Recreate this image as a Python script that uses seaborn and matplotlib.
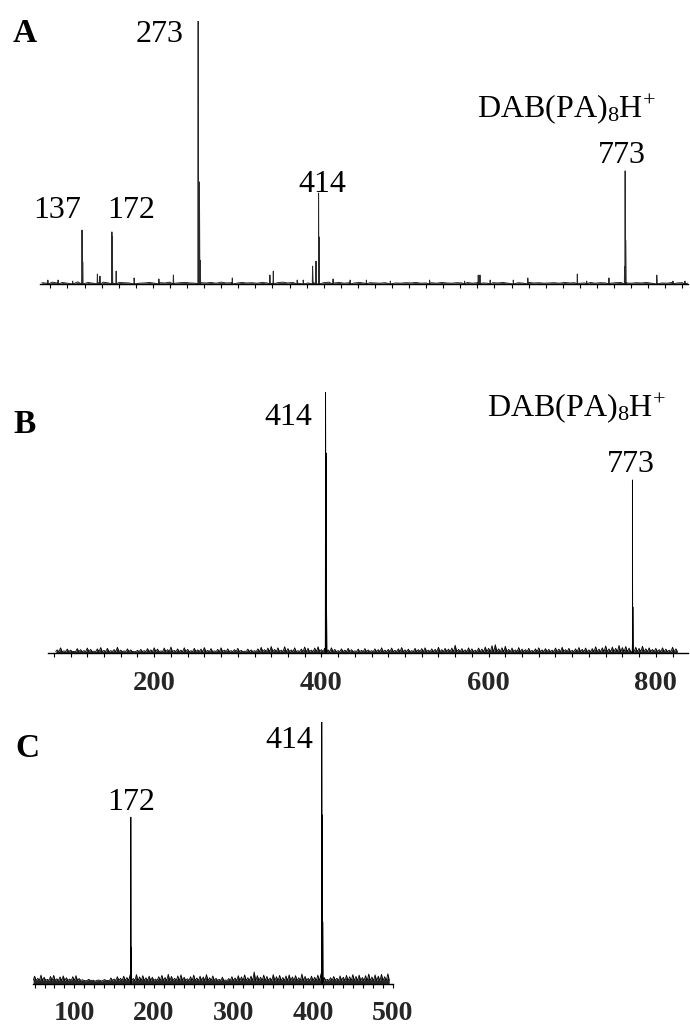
import numpy as np
import pandas as pd
import matplotlib
matplotlib.use("Agg")
import matplotlib.pyplot as plt
import seaborn as sns

# ---------------- data (m/z, relative intensity %) ----------------
# Panel A : stick peaks (main peaks + shoulders + minor peaks)
peaks_A_mz = [137, 137.8, 172, 172.5, 273, 274.5, 275.5, 414, 414.5, 411, 407,
              773, 773.6, 772.4,
              97, 109, 126, 155, 158, 177, 198, 227, 244, 313, 357, 361, 389, 396,
              431, 451, 470, 498, 544, 585, 601, 603, 615, 642, 659, 717, 728,
              754, 810, 829, 843]
peaks_A_int = [20.5, 8.4, 19.8, 17.9, 100, 38.8, 9.0, 34.6, 17.9, 8.7, 6.8,
               43.0, 16.7, 6.5,
               1.5, 1.5, 1.1, 3.8, 3.0, 4.9, 2.3, 1.9, 3.4, 2.3, 3.4, 4.9, 1.5, 1.5,
               1.9, 1.5, 1.5, 1.1, 1.5, 1.1, 3.4, 3.4, 1.5, 1.5, 2.3, 3.8, 1.1,
               2.3, 3.4, 1.1, 1.1]
noise_A_start, noise_A_step = 90, 6
noise_A = [0.5, 0.3, 0.7, 0.4, 0.6, 0.3, 0.5, 0.8, 0.4, 0.6, 0.3, 0.5, 0.7, 0.4, 0.3, 0.6, 0.5, 0.4, 0.7, 0.3,
           0.4, 0.6, 0.3, 0.5, 0.4, 0.7, 0.3, 0.5, 0.6, 0.4, 0.3, 0.5, 0.4, 0.6, 0.3, 0.7, 0.4, 0.5, 0.3, 0.6,
           0.4, 0.5, 0.3, 0.6, 0.4, 0.3, 0.5, 0.7, 0.4, 0.6, 0.3, 0.5, 0.4, 0.6, 0.8, 0.5, 0.7, 0.4, 0.6, 0.3,
           0.5, 0.4, 0.6, 0.3, 0.5, 0.4, 0.3, 0.5, 0.6, 0.4, 0.3, 0.5, 0.4, 0.6, 0.3, 0.4, 0.5, 0.3, 0.6, 0.4,
           0.3, 0.5, 0.4, 0.6, 0.3, 0.5, 0.4, 0.3, 0.5, 0.4, 0.6, 0.3, 0.4, 0.5, 0.3, 0.6, 0.4, 0.5, 0.3, 0.4,
           0.5, 0.3, 0.6, 0.4, 0.5, 0.3, 0.4, 0.6, 0.3, 0.5, 0.4, 0.3, 0.5, 0.6, 0.4, 0.3, 0.5, 0.4, 0.6, 0.3,
           0.5, 0.4, 0.3, 0.6, 0.4, 0.5, 0.3]

# Panel B
peaks_B_mz = [405, 405.6, 406.2, 772, 772.6]
peaks_B_int = [100, 76.6, 16.5, 66.3, 17.6]
noise_B_start, noise_B_step = 84, 4
noise_B = [1.2, 2.0, 0.8, 1.5, 1.1, 0.6, 1.7, 1.3, 0.9, 1.9, 1.4, 0.7, 1.6, 2.1, 1.0, 1.8, 0.9, 1.3, 2.2, 1.1,
           0.8, 1.6, 1.2, 0.5, 1.0, 1.4, 0.9, 1.7, 1.2, 2.0, 1.5, 0.8, 1.9, 1.3, 2.3, 1.0, 1.6, 1.1, 2.0, 1.4,
           0.9, 1.8, 1.2, 1.5, 2.1, 1.0, 1.7, 0.8, 1.4, 2.0, 1.1, 1.6, 0.9, 1.3, 1.8, 1.0, 0.7, 1.5, 1.2, 0.9,
           1.6, 2.2, 1.3, 1.9, 2.5, 1.4, 2.0, 1.1, 2.4, 1.7, 1.2, 2.0, 0.9, 1.5, 2.3, 1.8, 1.1, 1.9, 2.4, 1.3,
           1.8, 1.2, 2.0, 1.4, 0.9, 1.6, 1.1, 1.8, 1.3, 0.8, 1.5, 1.0, 1.7, 1.2, 0.9, 1.6, 1.3, 2.0, 1.1, 1.4,
           1.9, 1.0, 1.6, 2.1, 1.2, 1.5, 0.9, 1.8, 1.3, 1.7, 2.0, 1.1, 1.6, 1.4, 2.2, 1.3, 1.8, 1.5, 1.9, 3.0,
           1.4, 1.7, 1.2, 2.0, 1.6, 1.1, 1.9, 1.5, 2.3, 1.8, 2.8, 3.2, 1.6, 2.0, 2.6, 1.4, 1.9, 1.2, 2.1, 1.5,
           1.3, 1.8, 1.0, 1.6, 2.0, 1.2, 1.7, 1.4, 1.1, 1.9, 1.5, 2.2, 1.3, 1.8, 1.0, 1.6, 2.1, 1.4, 1.9, 1.2,
           1.7, 2.4, 1.5, 2.0, 2.7, 1.6, 2.3, 1.8, 2.9, 2.1, 2.5, 1.9, 3.3, 2.2, 1.8, 2.6, 1.6, 2.0, 1.4, 1.8,
           1.3, 2.0, 1.5, 1.1, 2.2, 1.6]
ticks_B = [200, 400, 600, 800]

# Panel C
peaks_C_mz = [171, 171.6, 411, 411.6, 412.2]
peaks_C_int = [63.7, 14.0, 100, 64.5, 23.7]
noise_C_start, noise_C_step = 50, 4
noise_C = [3.0, 2.2, 3.4, 2.6, 1.8, 2.9, 3.3, 2.0, 2.7, 3.1, 2.4, 1.9, 2.8, 3.2, 2.1, 1.6, 1.2, 1.8, 1.4, 1.0,
           1.5, 1.1, 1.7, 1.3, 2.3, 1.9, 2.8, 2.2, 3.0, 2.5, 3.4, 2.1, 3.6, 2.7, 3.2, 2.4, 3.0, 2.6, 1.9, 2.8,
           3.3, 2.5, 3.7, 2.9, 2.2, 3.1, 3.5, 2.6, 2.0, 2.8, 3.4, 2.3, 3.0, 2.7, 3.6, 2.4, 3.1, 2.2, 1.8, 2.6,
           1.5, 2.1, 2.8, 2.3, 3.2, 2.7, 3.5, 2.4, 3.0, 4.6, 3.2, 2.6, 3.4, 2.9, 2.3, 3.6, 2.8, 3.3, 2.5, 3.1,
           3.5, 2.7, 3.2, 2.4, 3.8, 2.9, 2.2, 3.0, 2.6, 3.4, 3.9, 2.5, 1.8, 2.4, 2.9, 2.2, 3.1, 2.6, 3.3, 2.8,
           3.6, 2.9, 3.4, 2.5, 3.2, 3.8, 2.7, 3.5, 3.0, 3.7, 2.8, 3.9]
ticks_C = [100, 200, 300, 400, 500]

# ---------------- style ----------------
sns.set_theme(style="ticks")
plt.rcParams["font.family"] = ["Liberation Serif", "DejaVu Serif"]
plt.rcParams["mathtext.fontset"] = "custom"
plt.rcParams["mathtext.rm"] = "Liberation Serif"
plt.rcParams["mathtext.it"] = "Liberation Serif:italic"
plt.rcParams["mathtext.bf"] = "Liberation Serif:bold"

W, H = 690, 1027
fig = plt.figure(figsize=(W / 100, H / 100), dpi=100)
fig.patch.set_facecolor("white")


def ax_px(x0, x1, ybase, ytop):
    return fig.add_axes([x0 / W, 1 - ybase / H, (x1 - x0) / W, (ybase - ytop) / H])


def profile(nstart, nstep, noise, pk_mz, pk_int, hw=0.35, noise_spiky=False, floor=0.0):
    xs, ys = [], []
    for i, v in enumerate(noise):
        x = nstart + nstep * i
        if noise_spiky:
            xs += [x - 0.45 * nstep, x, x + 0.45 * nstep]
            ys += [floor, v, floor]
        else:
            xs.append(x)
            ys.append(v)
    for m, h in zip(pk_mz, pk_int):
        xs += [m - hw, m, m + hw]
        ys += [0.0, h, 0.0]
    df = pd.DataFrame({"mz": xs, "intensity": ys}).sort_values("mz", kind="mergesort")
    return df.reset_index(drop=True)


def draw(ax, df, color, lw, fill=True):
    if fill:
        ax.fill_between(df["mz"], 0, df["intensity"], color=color, lw=0, alpha=0.85)
    sns.lineplot(data=df, x="mz", y="intensity", ax=ax, color=color, lw=lw,
                 estimator=None, sort=False, errorbar=None)
    ax.set_ylim(0, 100)
    ax.set_xlabel("")
    ax.set_ylabel("")
    ax.set_yticks([])
    sns.despine(ax=ax, left=True)
    ax.spines["bottom"].set_color("black")
    ax.spines["bottom"].set_linewidth(1.0)
    ax.patch.set_alpha(0)
    ax.tick_params(axis="x", which="both", direction="out", length=3, width=0.8,
                   color="black", bottom=True)


def ftext(x, y, s, **kw):
    fig.text(x / W, 1 - y / H, s, **kw)


# ---------------- Panel A ----------------
axA = ax_px(40, 688, 284, 21)
dfA = profile(noise_A_start, noise_A_step, noise_A, peaks_A_mz, peaks_A_int)
draw(axA, dfA, "#2a2a2a", 0.7)
axA.set_xlim(87.8, 846.6)
axA.set_xticks(np.arange(100, 841, 20))
axA.set_xticklabels([])

# ---------------- Panel B ----------------
axB = ax_px(48, 688, 653, 392)
dfB = profile(noise_B_start, noise_B_step, noise_B, peaks_B_mz, peaks_B_int,
              noise_spiky=True, floor=0.6)
draw(axB, dfB, "black", 0.6)
axB.set_xlim(73, 838.5)
axB.set_xticks(ticks_B, [str(t) for t in ticks_B], fontsize=20.5, fontweight="bold")
axB.set_xticks(np.arange(80, 831, 20), minor=True)
axB.tick_params(axis="x", which="major", pad=10)

# ---------------- Panel C ----------------
axC = ax_px(33, 393, 984, 722)
dfC = profile(noise_C_start, noise_C_step, noise_C, peaks_C_mz, peaks_C_int,
              noise_spiky=True, floor=1.4)
draw(axC, dfC, "black", 0.6)
axC.set_xlim(48, 500.5)
axC.set_xticks(ticks_C, [str(t) for t in ticks_C], fontsize=20, fontweight="bold")
axC.set_xticks(np.arange(50, 500, 12.5), minor=True)
axC.tick_params(axis="x", which="major", pad=9)

# ---------------- texts ----------------
LBL = dict(fontsize=23, color="black", va="baseline")
PANEL = dict(fontsize=24, fontweight="bold", color="black", va="baseline", ha="left")
dab = r"DAB(PA)$_{\mathregular{8}}$H$^{\mathregular{+}}$"

ftext(13, 42, "A", **PANEL)
ftext(160, 42, "273", ha="center", **LBL)
ftext(57.5, 218, "137", ha="center", **LBL)
ftext(131, 218, "172", ha="center", **LBL)
ftext(322.5, 192, "414", ha="center", **LBL)
ftext(622, 163, "773", ha="center", **LBL)
ftext(477, 117, dab, ha="left", **LBL)

ftext(13, 433, "B", **PANEL)
ftext(288, 425, "414", ha="center", **LBL)
ftext(487, 416, dab, ha="left", **LBL)
ftext(631, 472, "773", ha="center", **LBL)

ftext(15, 757, "C", **PANEL)
ftext(289, 748, "414", ha="center", **LBL)
ftext(131, 810, "172", ha="center", **LBL)

fig.savefig("out.png", dpi=100, facecolor="white")
